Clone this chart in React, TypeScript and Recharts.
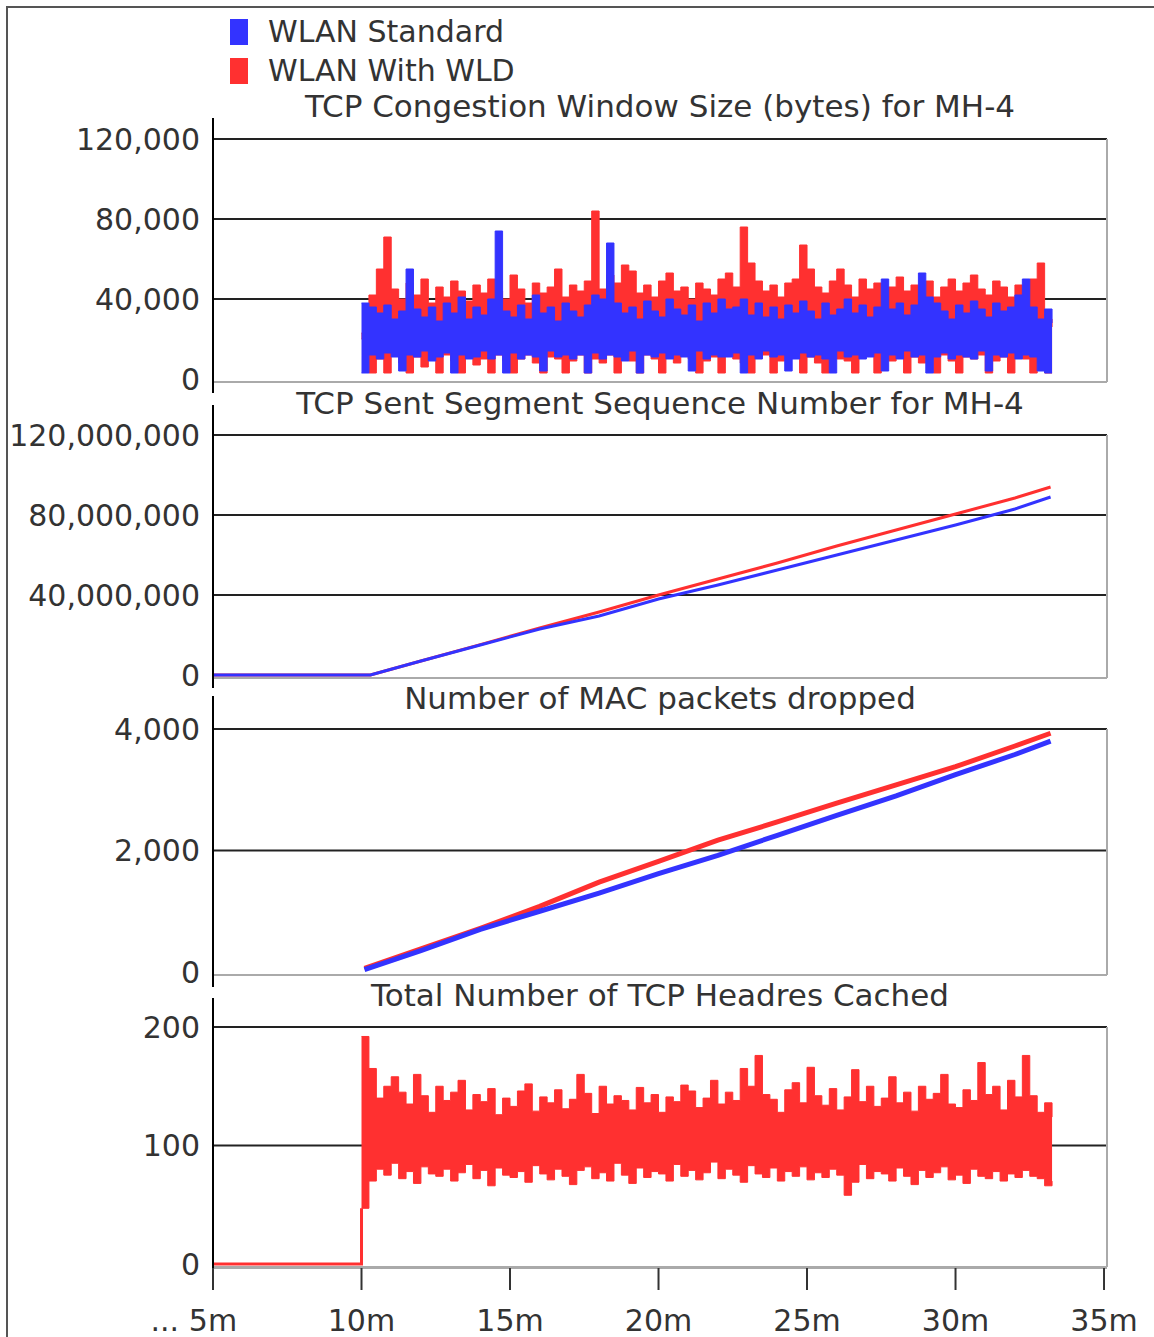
import React from "react";
import { ComposedChart, Area, Line, XAxis, YAxis, CartesianGrid, ReferenceLine } from "recharts";

const BLUE = "#3333ff";
const RED = "#ff3030";
const INK = "#333";
const FONT = "'DejaVu Sans', Verdana, sans-serif";

// noisy series are sampled every 0.25 min starting at 10 min
const noiseStart = 10;
const noiseStep = 0.25;

// TCP congestion window (thousands of bytes), per-sample low/high envelope
const cwndStdHighK = [
  38, 36, 33, 37, 30, 34, 55, 35, 31, 36,
  29, 38, 33, 41, 30, 36, 32, 40, 74, 34,
  31, 37, 30, 42, 33, 36, 29, 38, 34, 31,
  37, 42, 40, 68, 38, 33, 36, 30, 39, 34,
  31, 40, 35, 32, 37, 29, 38, 33, 40, 35,
  36, 40, 32, 38, 31, 36, 30, 37, 33, 39,
  34, 30, 38, 32, 35, 40, 33, 37, 31, 36,
  50, 35, 38, 32, 37, 53, 41, 38, 34, 30,
  37, 33, 39, 35, 31, 38, 34, 36, 42, 50,
  36, 30, 35, 28,
];
const cwndStdLowK = [
  3, 12, 10, 13, 11, 4, 12, 11, 14, 9,
  11, 13, 3, 12, 10, 11, 14, 10, 12, 3,
  13, 10, 12, 11, 4, 14, 11, 12, 10, 12,
  3, 13, 10, 12, 11, 9, 14, 3, 12, 11,
  13, 10, 12, 11, 4, 14, 10, 12, 11, 11,
  13, 3, 12, 10, 14, 11, 12, 4, 10, 13,
  11, 12, 10, 3, 14, 11, 12, 10, 11, 13,
  4, 12, 10, 14, 11, 12, 3, 11, 13, 10,
  12, 11, 10, 14, 4, 12, 11, 13, 10, 12,
  11, 4, 3, 3,
];
const cwndWldHighK = [
  23, 42, 55, 71, 45, 40, 48, 42, 50, 38,
  46, 41, 49, 44, 39, 47, 43, 50, 44, 40,
  52, 45, 38, 48, 43, 46, 55, 41, 47, 44,
  49, 84, 45, 52, 48, 57, 54, 43, 47, 41,
  49, 53, 44, 46, 40, 48, 45, 42, 50, 53,
  46, 76, 58, 49, 44, 47, 41, 48, 50, 67,
  55, 46, 43, 49, 55, 47, 41, 50, 45, 48,
  42, 46, 51, 44, 47, 43, 49, 41, 46, 50,
  44, 48, 52, 45, 42, 49, 46, 41, 47, 45,
  50, 58, 30, 26,
];
const cwndWldLowK = [
  20, 3, 10, 3, 12, 8, 3, 11, 6, 10,
  3, 12, 9, 3, 11, 7, 10, 3, 12, 9,
  3, 10, 12, 8, 3, 11, 10, 3, 9, 12,
  3, 10, 8, 12, 3, 11, 9, 3, 12, 10,
  3, 11, 8, 12, 10, 3, 9, 11, 3, 12,
  10, 8, 3, 11, 12, 3, 9, 10, 12, 3,
  11, 8, 3, 12, 10, 9, 3, 11, 12, 3,
  10, 9, 12, 3, 11, 8, 10, 3, 12, 9,
  3, 11, 10, 12, 3, 9, 11, 3, 12, 10,
  3, 8, 3, 3,
];

// TCP sent segment sequence number (millions)
const seqTimes = [5, 10.3, 12, 14, 16, 18, 20, 22, 24, 26, 28, 30, 32, 33.2];
const seqStdM = [0, 0, 7, 15, 23, 29.5, 38, 45, 52.5, 60, 67.5, 75, 83, 89];
const seqWldM = [0, 0, 7, 15.2, 23.5, 31.5, 40, 48, 56, 64.5, 72.5, 80.5, 88.5, 94];

// MAC packets dropped
const macTimes = [10.1, 12, 14, 16, 18, 20, 22, 24, 26, 28, 30, 32, 33.2];
const macStd = [40, 350, 700, 1000, 1300, 1620, 1920, 2250, 2580, 2900, 3250, 3580, 3800];
const macWld = [60, 380, 720, 1080, 1480, 1820, 2170, 2470, 2780, 3080, 3380, 3720, 3930];

// TCP headers cached (WLD only): idle until 10 min, then low/high envelope
const hdrIdleTimes = [5, 10, 10];
const hdrIdle = [0, 0, 47];
const hdrHigh = [
  192, 165, 140, 150, 158, 145, 135, 160, 142, 128,
  150, 138, 145, 155, 130, 143, 137, 148, 126, 140,
  133, 146, 152, 129, 141, 136, 147, 131, 139, 160,
  144, 127, 150, 135, 142, 138, 130, 149, 136, 143,
  128, 141, 137, 151, 146, 132, 140, 155, 135, 145,
  138, 165, 150, 176, 143, 139, 128, 147, 153, 136,
  166, 142, 134, 148, 130, 141, 164, 137, 150, 133,
  140, 158, 136, 145, 129, 150, 139, 144, 160, 135,
  132, 147, 138, 170, 143, 150, 130, 155, 141, 176,
  142, 128, 136, 124,
];
const hdrLow = [
  47, 70, 80, 75, 85, 72, 78, 68, 82, 76,
  74, 80, 70, 77, 84, 72, 79, 66, 81, 75,
  73, 78, 69, 83, 76, 71, 80, 74, 67, 79,
  82, 72, 77, 70, 85, 75, 68, 81, 73, 78,
  76, 70, 84, 74, 79, 71, 77, 86, 72, 80,
  75, 69, 83, 76, 73, 81, 70, 78, 74, 82,
  71, 77, 73, 80, 75, 58, 69, 84, 72, 78,
  76, 70, 81, 74, 67, 79, 73, 77, 82, 71,
  75, 68, 80, 74, 72, 78, 70, 76, 73, 79,
  74, 72, 66, 70,
];

const xTicks = [5, 10, 15, 20, 25, 30, 35];
const cwndTicks = [0, 40000, 80000, 120000];
const seqTicks = [0, 40000000, 80000000, 120000000];
const macTicks = [0, 2000, 4000];
const hdrTicks = [0, 100, 200];

const noiseTime = (i: number) => noiseStart + i * noiseStep;

const cwndData = cwndStdHighK.map((_, i) => ({
  t: noiseTime(i),
  std: [cwndStdLowK[i] * 1000, cwndStdHighK[i] * 1000],
  wld: [cwndWldLowK[i] * 1000, cwndWldHighK[i] * 1000],
}));
const seqStdData = seqTimes.map((t, i) => ({ t, v: seqStdM[i] * 1e6 }));
const seqWldData = seqTimes.map((t, i) => ({ t, v: seqWldM[i] * 1e6 }));
const macStdData = macTimes.map((t, i) => ({ t, v: macStd[i] }));
const macWldData = macTimes.map((t, i) => ({ t, v: macWld[i] }));
const hdrIdleData = hdrIdleTimes.map((t, i) => ({ t, v: hdrIdle[i] }));
const hdrData = hdrHigh.map((_, i) => ({ t: noiseTime(i), v: [hdrLow[i], hdrHigh[i]] }));

// plot frame runs a little past the 35m tick
const X_MAX = 35.1;
const PLOT_LEFT = 213;
const PLOT_RIGHT = 1107;
const PAGE_W = 1154;
const X_AXIS_H = 70;
const PAD = 18;

const fmt = (v: number) => v.toLocaleString("en-US");

function XTick(props: any) {
  const { x, y, payload } = props;
  return (
    <g>
      {payload.value === 5 && (
        <text x={x - 34} y={y} dy="0.71em" textAnchor="end" fill={INK} fontSize={30} fontFamily={FONT}>
          ...
        </text>
      )}
      <text x={x} y={y} dy="0.71em" textAnchor="middle" fill={INK} fontSize={30} fontFamily={FONT}>
        {payload.value}m
      </text>
    </g>
  );
}

interface PanelProps {
  title: string;
  titleY: number;
  top: number; // pixel row of the highest tick
  zero: number; // pixel row of 0
  axisTop: number;
  axisBottom: number;
  ticks: number[];
  data?: any[];
  showX?: boolean;
  children: React.ReactNode;
}

function Panel({ title, titleY, top, zero, axisTop, axisBottom, ticks, data, showX, children }: PanelProps) {
  const max = ticks[ticks.length - 1];
  const perPx = max / (zero - top);
  const domain = [-(axisBottom - zero) * perPx, max + (top - axisTop) * perPx];
  const frameY = -3 * perPx;
  const height = axisBottom - axisTop + (showX ? X_AXIS_H : PAD);
  return (
    <>
      <div
        style={{
          position: "absolute",
          left: PLOT_LEFT,
          width: PLOT_RIGHT - PLOT_LEFT,
          top: titleY - 18,
          lineHeight: "36px",
          textAlign: "center",
          fontSize: 31,
          color: INK,
          fontFamily: FONT,
          whiteSpace: "nowrap",
          zIndex: 2,
        }}
      >
        {title}
      </div>
      <div style={{ position: "absolute", left: 0, top: axisTop }}>
        <ComposedChart
          width={PAGE_W}
          height={height}
          data={data}
          margin={{ top: 0, right: PAGE_W - PLOT_RIGHT, bottom: showX ? 0 : PAD, left: 0 }}
        >
          <CartesianGrid horizontal vertical={false} horizontalValues={ticks.slice(1)} stroke="#222" strokeWidth={2} />
          <XAxis
            type="number"
            dataKey="t"
            domain={[5, X_MAX]}
            ticks={xTicks}
            hide={!showX}
            height={showX ? X_AXIS_H : 0}
            axisLine={{ stroke: "#aaa", strokeWidth: 2 }}
            tickLine={{ stroke: INK, strokeWidth: 2 }}
            tickSize={22}
            tickMargin={20}
            tick={<XTick />}
            interval={0}
            allowDataOverflow
          />
          <YAxis
            type="number"
            domain={domain}
            ticks={ticks}
            width={PLOT_LEFT}
            axisLine={{ stroke: "#000", strokeWidth: 2 }}
            tickLine={false}
            tickSize={0}
            tickMargin={13}
            tickFormatter={fmt}
            tick={{ fill: INK, fontSize: 30, fontFamily: FONT }}
            interval={0}
            allowDataOverflow
          />
          <ReferenceLine y={frameY} stroke="#aaa" strokeWidth={2} ifOverflow="extendDomain" />
          <ReferenceLine
            segment={[
              { x: X_MAX, y: frameY },
              { x: X_MAX, y: max },
            ]}
            stroke="#aaa"
            strokeWidth={2}
          />
          {children}
        </ComposedChart>
      </div>
    </>
  );
}

function LegendItem({ color, label, y }: { color: string; label: string; y: number }) {
  return (
    <>
      <div style={{ position: "absolute", left: 230, top: y - 13, width: 18, height: 26, background: color }} />
      <div
        style={{
          position: "absolute",
          left: 268,
          top: y - 18,
          lineHeight: "36px",
          fontSize: 30,
          color: INK,
          fontFamily: FONT,
          whiteSpace: "nowrap",
        }}
      >
        {label}
      </div>
    </>
  );
}

export default function App() {
  return (
    <div
      style={{
        position: "absolute",
        left: 0,
        top: 0,
        width: PAGE_W,
        height: 1337,
        overflow: "hidden",
        background: "#fff",
      }}
    >
      <div
        style={{
          position: "absolute",
          left: 6,
          top: 6,
          right: 0,
          bottom: 0,
          borderTop: "2px solid #555",
          borderLeft: "2px solid #555",
        }}
      />
      <LegendItem color={BLUE} label="WLAN Standard" y={32} />
      <LegendItem color={RED} label="WLAN With WLD" y={71} />

      <Panel
        title="TCP Congestion Window Size (bytes) for MH-4"
        titleY={106}
        top={139}
        zero={379}
        axisTop={118}
        axisBottom={393}
        ticks={cwndTicks}
        data={cwndData}
      >
        <Area type="stepAfter" dataKey="wld" stroke={RED} strokeWidth={1} fill={RED} fillOpacity={1} dot={false} activeDot={false} isAnimationActive={false} />
        <Area type="stepAfter" dataKey="std" stroke={BLUE} strokeWidth={1} fill={BLUE} fillOpacity={1} dot={false} activeDot={false} isAnimationActive={false} />
      </Panel>

      <Panel
        title="TCP Sent Segment Sequence Number for MH-4"
        titleY={403}
        top={435}
        zero={675}
        axisTop={405}
        axisBottom={688}
        ticks={seqTicks}
      >
        <Line data={seqWldData} dataKey="v" type="linear" stroke={RED} strokeWidth={3} dot={false} activeDot={false} isAnimationActive={false} />
        <Line data={seqStdData} dataKey="v" type="linear" stroke={BLUE} strokeWidth={3} dot={false} activeDot={false} isAnimationActive={false} />
      </Panel>

      <Panel
        title="Number of MAC packets dropped"
        titleY={698}
        top={729}
        zero={972}
        axisTop={696}
        axisBottom={987}
        ticks={macTicks}
      >
        <Line data={macWldData} dataKey="v" type="linear" stroke={RED} strokeWidth={5} dot={false} activeDot={false} isAnimationActive={false} />
        <Line data={macStdData} dataKey="v" type="linear" stroke={BLUE} strokeWidth={5} dot={false} activeDot={false} isAnimationActive={false} />
      </Panel>

      <Panel
        title="Total Number of TCP Headres Cached"
        titleY={995}
        top={1027}
        zero={1264}
        axisTop={998}
        axisBottom={1268}
        ticks={hdrTicks}
        data={hdrData}
        showX
      >
        <Line data={hdrIdleData} dataKey="v" type="linear" stroke={RED} strokeWidth={3} dot={false} activeDot={false} isAnimationActive={false} />
        <Area type="stepAfter" dataKey="v" stroke={RED} strokeWidth={1} fill={RED} fillOpacity={1} dot={false} activeDot={false} isAnimationActive={false} />
      </Panel>
    </div>
  );
}
